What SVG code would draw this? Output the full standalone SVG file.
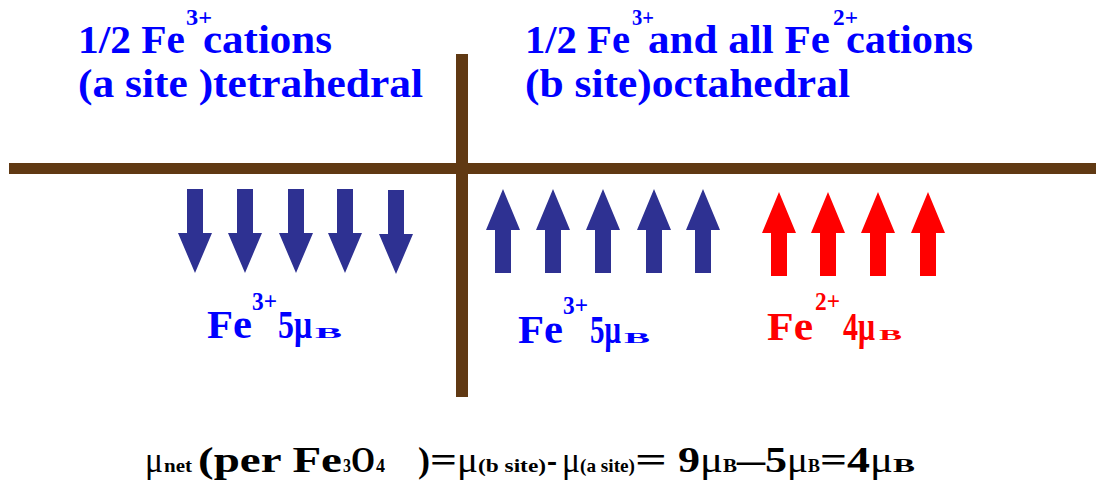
<svg xmlns="http://www.w3.org/2000/svg" xmlns:xlink="http://www.w3.org/1999/xlink" width="1096" height="488" viewBox="0 0 1096 488">
<style>
.t{font-family:"Liberation Serif","Times New Roman",serif;font-weight:bold}
.b{fill:#0000ff}
.r{fill:#ff0000}
.k{fill:#000000}
.h{font-size:39px}
.hs{font-size:23px}
.l{font-size:40px}
.ls{font-size:25px}
.sb{font-size:15px}
.f{font-size:36px}
.fs{font-size:19px}
.mu{font-weight:normal}
.bar{fill:#603913}
</style>
<defs>
<path id="down" d="M-8,0 H8 V44 H17 L0,84 L-17,44 H-8 Z"/>
<path id="up" d="M0,0 L17,41 H8 V84 H-8 V41 H-17 Z"/>
</defs>
<rect width="1096" height="488" fill="#ffffff"/>
<g id="axes">
<rect class="bar" x="9" y="163" width="1087" height="11"/>
<rect class="bar" x="456" y="54" width="12" height="343"/>
</g>
<g id="heading-a" class="t b">
<text class="h" x="78" y="53" textLength="107" lengthAdjust="spacingAndGlyphs">1/2 Fe</text>
<text class="hs" x="186" y="25" textLength="26" lengthAdjust="spacingAndGlyphs">3+</text>
<text class="h" x="203" y="53" textLength="129" lengthAdjust="spacingAndGlyphs">cations</text>
<text class="h" x="78" y="97" textLength="345" lengthAdjust="spacingAndGlyphs">(a site )tetrahedral</text>
</g>
<g id="heading-b" class="t b">
<text class="h" x="525" y="53" textLength="105" lengthAdjust="spacingAndGlyphs">1/2 Fe</text>
<text class="hs" x="632" y="25" textLength="22" lengthAdjust="spacingAndGlyphs">3+</text>
<text class="h" x="648" y="53" textLength="182" lengthAdjust="spacingAndGlyphs">and all Fe</text>
<text class="hs" x="833" y="25" textLength="25" lengthAdjust="spacingAndGlyphs">2+</text>
<text class="h" x="846" y="53" textLength="127" lengthAdjust="spacingAndGlyphs">cations</text>
<text class="h" x="525" y="97" textLength="325" lengthAdjust="spacingAndGlyphs">(b site)octahedral</text>
</g>
<g id="a-site-spins" fill="#2e3192">
<use xlink:href="#down" x="195" y="189"/>
<use xlink:href="#down" x="245" y="189"/>
<use xlink:href="#down" x="296" y="189"/>
<use xlink:href="#down" x="345" y="189"/>
<use xlink:href="#down" x="396" y="190"/>
</g>
<g id="b-site-fe3-spins" fill="#2e3192">
<use xlink:href="#up" x="503" y="189"/>
<use xlink:href="#up" x="553" y="189"/>
<use xlink:href="#up" x="603" y="189"/>
<use xlink:href="#up" x="654" y="189"/>
<use xlink:href="#up" x="703" y="189"/>
</g>
<g id="b-site-fe2-spins" fill="#ff0000">
<use xlink:href="#up" x="779" y="192"/>
<use xlink:href="#up" x="828" y="192"/>
<use xlink:href="#up" x="878" y="192"/>
<use xlink:href="#up" x="928" y="192"/>
</g>
<g id="label-a" class="t b">
<text class="l" x="207" y="338" textLength="45" lengthAdjust="spacingAndGlyphs">Fe</text>
<text class="ls" x="252" y="310" textLength="25" lengthAdjust="spacingAndGlyphs">3+</text>
<text class="l" x="278" y="338" textLength="34" lengthAdjust="spacingAndGlyphs">5μ</text>
<text class="sb" x="315" y="338" textLength="27" lengthAdjust="spacingAndGlyphs">B</text>
</g>
<g id="label-b3" class="t b">
<text class="l" x="518" y="343" textLength="45" lengthAdjust="spacingAndGlyphs">Fe</text>
<text class="ls" x="563" y="314" textLength="25" lengthAdjust="spacingAndGlyphs">3+</text>
<text class="l" x="590" y="343" textLength="31" lengthAdjust="spacingAndGlyphs">5μ</text>
<text class="sb" x="624" y="343" textLength="26" lengthAdjust="spacingAndGlyphs">B</text>
</g>
<g id="label-b2" class="t r">
<text class="l" x="767" y="340" textLength="46" lengthAdjust="spacingAndGlyphs">Fe</text>
<text class="ls" x="815" y="310" textLength="25" lengthAdjust="spacingAndGlyphs">2+</text>
<text class="l" x="843" y="340" textLength="32" lengthAdjust="spacingAndGlyphs">4μ</text>
<text class="sb" x="879" y="340" textLength="23" lengthAdjust="spacingAndGlyphs">B</text>
</g>
<g id="formula" class="t k">
<text class="f mu" x="145" y="472" textLength="18" lengthAdjust="spacingAndGlyphs">μ</text>
<text class="fs" x="164" y="472" textLength="28" lengthAdjust="spacingAndGlyphs">net</text>
<text class="f" x="198" y="472" textLength="144" lengthAdjust="spacingAndGlyphs">(per Fe</text>
<text class="fs" x="343" y="472" textLength="8" lengthAdjust="spacingAndGlyphs">3</text>
<text class="f" x="351" y="472" textLength="24" lengthAdjust="spacingAndGlyphs">O</text>
<text class="fs" x="376" y="472" textLength="9" lengthAdjust="spacingAndGlyphs">4</text>
<text class="f" x="418" y="472" textLength="12" lengthAdjust="spacingAndGlyphs">)</text>
<text class="f" x="430" y="472" textLength="27" lengthAdjust="spacingAndGlyphs">=</text>
<text class="f mu" x="457" y="472" textLength="21" lengthAdjust="spacingAndGlyphs">μ</text>
<text class="fs" x="478" y="472" textLength="68" lengthAdjust="spacingAndGlyphs">(b site)</text>
<text class="f" x="547" y="472" textLength="10" lengthAdjust="spacingAndGlyphs">-</text>
<text class="f mu" x="562" y="472" textLength="18" lengthAdjust="spacingAndGlyphs">μ</text>
<text class="fs" x="580" y="472" textLength="55" lengthAdjust="spacingAndGlyphs">(a site)</text>
<text class="f" x="635" y="472" textLength="32" lengthAdjust="spacingAndGlyphs">=</text>
<text class="f" x="678" y="472" textLength="22" lengthAdjust="spacingAndGlyphs">9</text>
<text class="f mu" x="700" y="472" textLength="23" lengthAdjust="spacingAndGlyphs">μ</text>
<text class="fs" x="723" y="472" textLength="14" lengthAdjust="spacingAndGlyphs">B</text>
<text class="f" x="737" y="472" textLength="28" lengthAdjust="spacingAndGlyphs">–</text>
<text class="f" x="765" y="472" textLength="22" lengthAdjust="spacingAndGlyphs">5</text>
<text class="f mu" x="787" y="472" textLength="21" lengthAdjust="spacingAndGlyphs">μ</text>
<text class="fs" x="808" y="472" textLength="12" lengthAdjust="spacingAndGlyphs">B</text>
<text class="f" x="820" y="472" textLength="27" lengthAdjust="spacingAndGlyphs">=</text>
<text class="f" x="847" y="472" textLength="23" lengthAdjust="spacingAndGlyphs">4</text>
<text class="f mu" x="870" y="472" textLength="23" lengthAdjust="spacingAndGlyphs">μ</text>
<text class="fs" x="893" y="472" textLength="22" lengthAdjust="spacingAndGlyphs">B</text>
</g>
</svg>
